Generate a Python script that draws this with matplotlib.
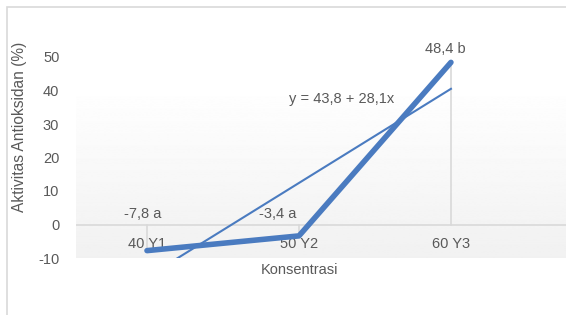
import numpy as np
import matplotlib.pyplot as plt
from matplotlib.patches import Rectangle

categories = ["40 Y1", "50 Y2", "60 Y3"]
values = [-7.8, -3.4, 48.4]
point_labels = ["-7,8 a", "-3,4 a", "48,4 b"]
yticks = [-10, 0, 10, 20, 30, 40, 50]
equation = "y = 43,8 + 28,1x"

plt.rcParams['font.family'] = ['Liberation Sans', 'DejaVu Sans']
grey = "#595959"
blue = "#4A7BC0"

W, H = 566, 315
fig = plt.figure(figsize=(W / 100, H / 100), dpi=100)

# outer chart frame
fig.patches.append(Rectangle((7 / W, -0.1), 1.2, 1 - 7 / H + 0.1, transform=fig.transFigure,
                             fill=False, edgecolor="#D9D9D9", linewidth=1.2))

ax = fig.add_axes([76 / W, 1 - 258 / H, 1 - 76 / W, (258 - 57) / H])
x = np.arange(len(categories))
x0, x1 = -0.467, 2.757
ax.set_xlim(x0, x1)
ax.set_ylim(-10, 50)

# plot area gradient (light grey at bottom fading to white near the top)
yy = np.linspace(-10, 50, 300)
shade = np.clip(0.945 + 0.055 * (yy + 10) / 52, 0, 1).reshape(-1, 1)
ax.imshow(shade, extent=[x0, x1, -10, 50], origin="lower", cmap="gray",
          vmin=0, vmax=1, aspect="auto", zorder=0)

for s in ax.spines.values():
    s.set_visible(False)

ax.axhline(0, color="#D9D9D9", linewidth=1.2, zorder=1)
for xi, v in zip(x, values):
    ax.plot([xi, xi], [0, v], color="#D9D9D9", linewidth=1.2, zorder=1)

# linear trendline
slope, intercept = np.polyfit(x + 1, values, 1)
ax.plot(x, intercept + slope * (x + 1), color=blue, linewidth=1.5, zorder=2)

ax.plot(x, values, color=blue, linewidth=4, solid_capstyle="round", zorder=3)

ax.set_xticks([])
ax.set_yticks(yticks)
ax.set_yticklabels([str(t) for t in yticks], fontsize=10.5, color=grey)
ax.tick_params(axis="y", length=0, pad=12)

for xi, c in zip(x, categories):
    ax.text(xi, -5.7, c, ha="center", va="center", fontsize=10.5, color=grey, zorder=2)

label_pos = [(-0.03, 3.0), (0.86, 3.0), (1.96, 52.5)]
for (px, py), t in zip(label_pos, point_labels):
    ax.text(px, py, t, ha="center", va="center", fontsize=10.5, color=grey, clip_on=False)

ax.text(1.28, 37.6, equation, ha="center", va="center", fontsize=10.5, color=grey)

fig.text(299 / W, 1 - 270 / H, "Konsentrasi", ha="center", va="center", fontsize=10.5, color=grey)
fig.text(20 / W, 1 - 127 / H, "Aktivitas Antioksidan (%)", ha="center", va="center",
         rotation=90, fontsize=11.2, color=grey)

fig.savefig("out.png", dpi=100)
